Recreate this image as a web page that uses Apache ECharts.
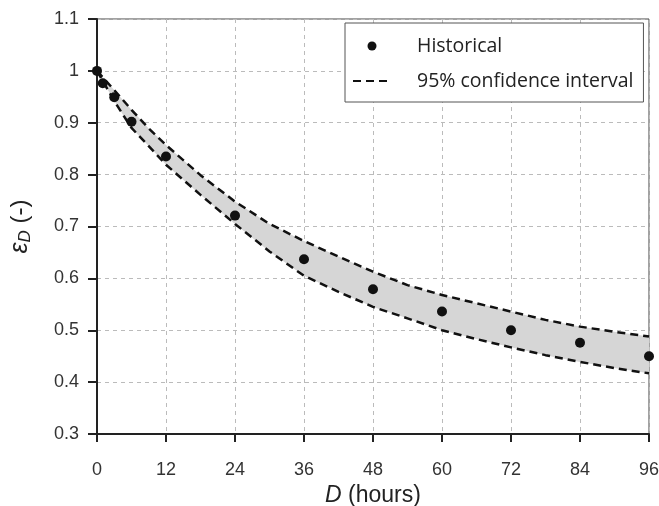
<!DOCTYPE html>
<html>
<head>
<meta charset="utf-8">
<script src="https://cdn.jsdelivr.net/npm/echarts@6/dist/echarts.min.js"></script>
<style>
  html, body { margin: 0; padding: 0; background: #fff; }
  #chart { width: 659px; height: 506px; }
</style>
</head>
<body>
<div id="chart"></div>
<script>
// historical points (D in hours, epsilon_D)
var histD = [0, 1, 3, 6, 12, 24, 36, 48, 60, 72, 84, 96];
var histVal = [1.0, 0.976, 0.949, 0.902, 0.835, 0.721, 0.637, 0.579, 0.536, 0.500, 0.476, 0.450];

// 95% confidence band
var bandD = [0, 3, 6, 9, 12, 18, 24, 30, 36, 42, 48, 54, 60, 66, 72, 78, 84, 90, 96];
var bandUpper = [1.0, 0.963, 0.925, 0.889, 0.857, 0.799, 0.748, 0.705, 0.672, 0.642, 0.613, 0.587, 0.568, 0.552, 0.536, 0.520, 0.507, 0.497, 0.488];
var bandLower = [1.0, 0.942, 0.890, 0.855, 0.819, 0.761, 0.705, 0.652, 0.605, 0.574, 0.545, 0.523, 0.500, 0.483, 0.467, 0.452, 0.439, 0.427, 0.417];

var xTicks = [0, 12, 24, 36, 48, 60, 72, 84, 96];

function pairs(xs, ys) {
    var out = [];
    for (var i = 0; i < xs.length; i++) out.push([xs[i], ys[i]]);
    return out;
}

var labelFont = '"Liberation Sans", Arial, sans-serif';
var dash = {color: '#111', width: 2.5, type: [8, 5]};

// grey band as one polygon: upper curve forward, lower curve back
function renderBand(params, api) {
    if (params.dataIndex !== 0) return;
    var pts = [];
    for (var i = 0; i < bandD.length; i++) pts.push(api.coord([bandD[i], bandUpper[i]]));
    for (var j = bandD.length - 1; j >= 0; j--) pts.push(api.coord([bandD[j], bandLower[j]]));
    return {
        type: 'polygon',
        shape: {points: pts},
        style: {fill: '#d6d6d6', stroke: null}
    };
}

var myChart = echarts.init(document.getElementById('chart'));
var option = {
    animation: false,
    backgroundColor: '#fff',
    grid: {
        left: 97, right: 10, top: 19, bottom: 72,
        outerBoundsMode: 'none',
        show: true, borderColor: '#444', borderWidth: 1
    },
    legend: {
        orient: 'vertical',
        left: 345, top: 23,
        backgroundColor: '#fff',
        borderColor: '#555',
        borderWidth: 1,
        padding: [11, 10, 9, 7],
        itemGap: 11,
        itemWidth: 38,
        itemHeight: 9,
        textStyle: {
            fontFamily: '"Open Sans", "Noto Sans", sans-serif',
            fontSize: 19.5,
            color: '#222',
            padding: [0, 0, 0, 21],
            lineHeight: 24
        },
        data: [
            {name: 'Historical', icon: 'circle'},
            {name: '95% confidence interval', itemStyle: {opacity: 0}}
        ]
    },
    xAxis: {
        type: 'value',
        min: 0, max: 96, interval: 12,
        name: '{i|D} (hours)',
        nameLocation: 'middle',
        nameGap: 45,
        nameTextStyle: {
            fontFamily: labelFont, fontSize: 23, color: '#222',
            rich: {i: {fontFamily: labelFont, fontSize: 23, fontStyle: 'italic', color: '#222'}}
        },
        axisLine: {onZero: false, lineStyle: {color: '#222', width: 2}},
        axisTick: {show: true, inside: false, length: 8, lineStyle: {color: '#222', width: 2}},
        axisLabel: {
            margin: 27, fontFamily: labelFont, fontSize: 18, color: '#333',
            customValues: xTicks
        },
        splitLine: {show: true, lineStyle: {color: '#bbb', width: 1, type: [4, 4]}}
    },
    yAxis: {
        type: 'value',
        min: 0.3, max: 1.1, interval: 0.1,
        name: '{e|ε}{s|D} (-)',
        nameLocation: 'middle',
        nameGap: 63,
        nameTextStyle: {
            fontFamily: labelFont, fontSize: 24, color: '#222',
            rich: {
                e: {fontFamily: labelFont, fontSize: 25, fontStyle: 'italic', color: '#222'},
                s: {fontFamily: labelFont, fontSize: 17, fontStyle: 'italic', color: '#222', verticalAlign: 'bottom', padding: [10, 0, 0, 0]}
            }
        },
        axisLine: {show: true, onZero: false, lineStyle: {color: '#222', width: 2}},
        axisTick: {show: true, inside: false, length: 9, lineStyle: {color: '#222', width: 2}},
        axisLabel: {
            margin: 18, fontFamily: labelFont, fontSize: 18, color: '#333',
            formatter: function (v) { return String(+v.toFixed(1)); }
        },
        splitLine: {show: true, lineStyle: {color: '#bbb', width: 1, type: [4, 4]}}
    },
    series: [
        {
            name: 'band',
            type: 'custom',
            renderItem: renderBand,
            data: [[bandD[0], bandUpper[0]]],
            clip: true,
            silent: true,
            z: 1
        },
        {
            name: '95% confidence interval',
            type: 'line',
            data: pairs(bandD, bandUpper),
            symbol: 'none',
            lineStyle: dash,
            itemStyle: {color: '#111'},
            z: 3
        },
        {
            name: 'lowerLine',
            type: 'line',
            data: pairs(bandD, bandLower),
            symbol: 'none',
            lineStyle: dash,
            itemStyle: {color: '#111'},
            z: 3
        },
        {
            name: 'Historical',
            type: 'scatter',
            data: pairs(histD, histVal),
            symbol: 'circle',
            symbolSize: 10,
            itemStyle: {color: '#111', opacity: 1},
            z: 4
        }
    ]
};
myChart.setOption(option);
</script>
</body>
</html>
